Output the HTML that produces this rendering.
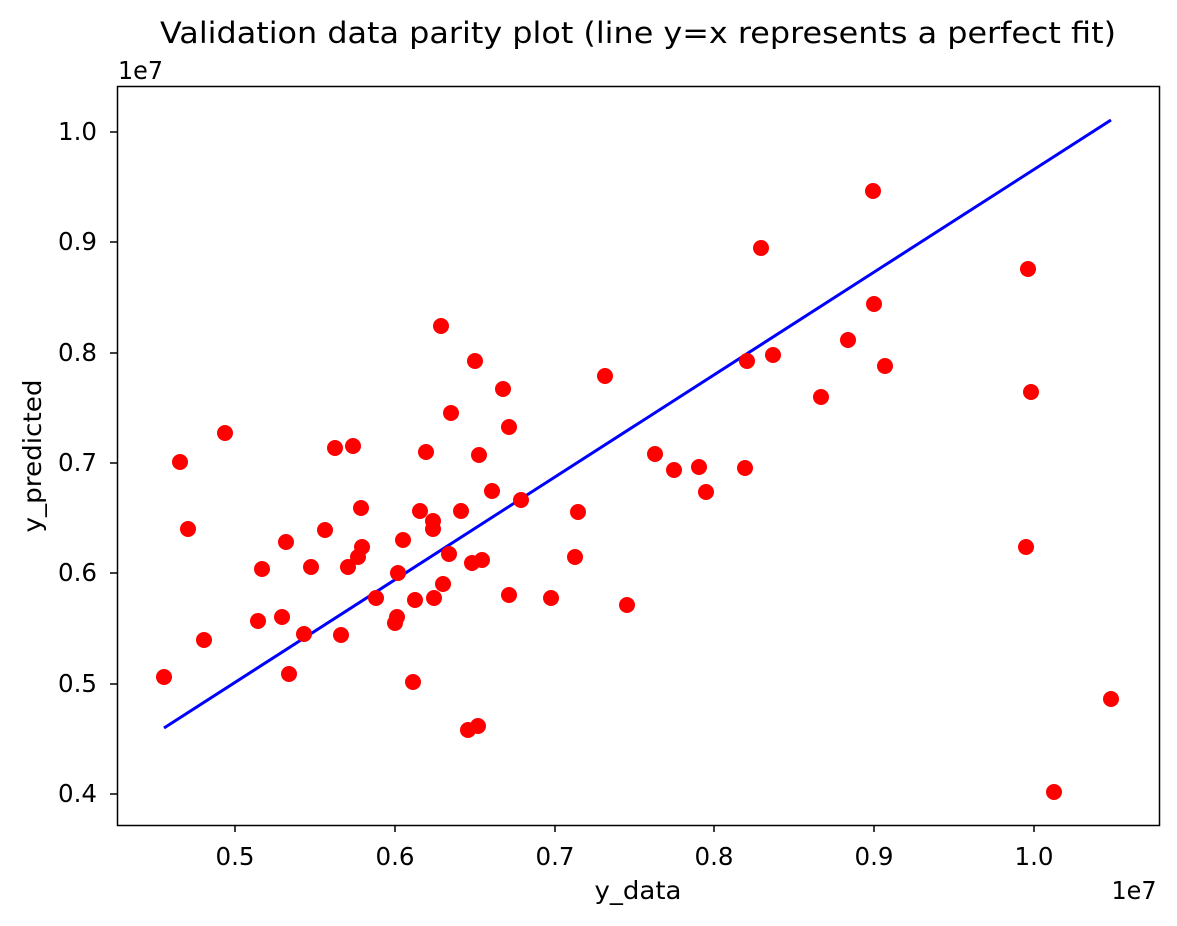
<!DOCTYPE html>
<html><head><meta charset="utf-8"><style>body{margin:0;background:#fff}svg{display:block}text{font-family:"DejaVu Sans","Liberation Sans",sans-serif;fill:#000}</style></head><body>
<svg width="1177" height="926" xmlns="http://www.w3.org/2000/svg">
<text x="160" y="43" font-size="29" textLength="956" lengthAdjust="spacingAndGlyphs">Validation data parity plot (line y=x represents a perfect fit)</text>
<line x1="164" y1="728" x2="1111" y2="120" stroke="#0000ff" stroke-width="3"/>
<g fill="#ff0000">
<circle cx="164" cy="677" r="8"/><circle cx="180" cy="462" r="8"/><circle cx="188" cy="529" r="8"/><circle cx="204" cy="640" r="8"/><circle cx="225" cy="433" r="8"/><circle cx="258" cy="621" r="8"/><circle cx="262" cy="569" r="8"/><circle cx="282" cy="617" r="8"/><circle cx="286" cy="542" r="8"/><circle cx="289" cy="674" r="8"/><circle cx="304" cy="634" r="8"/><circle cx="311" cy="567" r="8"/><circle cx="325" cy="530" r="8"/><circle cx="335" cy="448" r="8"/><circle cx="341" cy="635" r="8"/><circle cx="348" cy="567" r="8"/><circle cx="353" cy="446" r="8"/><circle cx="358" cy="557" r="8"/><circle cx="361" cy="508" r="8"/><circle cx="362" cy="547" r="8"/><circle cx="376" cy="598" r="8"/><circle cx="395" cy="623" r="8"/><circle cx="397" cy="617" r="8"/><circle cx="398" cy="573" r="8"/><circle cx="403" cy="540" r="8"/><circle cx="413" cy="682" r="8"/><circle cx="415" cy="600" r="8"/><circle cx="420" cy="511" r="8"/><circle cx="426" cy="452" r="8"/><circle cx="433" cy="521" r="8"/><circle cx="433" cy="529" r="8"/><circle cx="434" cy="598" r="8"/><circle cx="441" cy="326" r="8"/><circle cx="443" cy="584" r="8"/><circle cx="449" cy="554" r="8"/><circle cx="451" cy="413" r="8"/><circle cx="461" cy="511" r="8"/><circle cx="468" cy="730" r="8"/><circle cx="472" cy="563" r="8"/><circle cx="475" cy="361" r="8"/><circle cx="478" cy="726" r="8"/><circle cx="479" cy="455" r="8"/><circle cx="482" cy="560" r="8"/><circle cx="492" cy="491" r="8"/><circle cx="503" cy="389" r="8"/><circle cx="509" cy="427" r="8"/><circle cx="509" cy="595" r="8"/><circle cx="521" cy="500" r="8"/><circle cx="551" cy="598" r="8"/><circle cx="575" cy="557" r="8"/><circle cx="578" cy="512" r="8"/><circle cx="605" cy="376" r="8"/><circle cx="627" cy="605" r="8"/><circle cx="655" cy="454" r="8"/><circle cx="674" cy="470" r="8"/><circle cx="699" cy="467" r="8"/><circle cx="706" cy="492" r="8"/><circle cx="745" cy="468" r="8"/><circle cx="747" cy="361" r="8"/><circle cx="761" cy="248" r="8"/><circle cx="773" cy="355" r="8"/><circle cx="821" cy="397" r="8"/><circle cx="848" cy="340" r="8"/><circle cx="873" cy="191" r="8"/><circle cx="874" cy="304" r="8"/><circle cx="885" cy="366" r="8"/><circle cx="1026" cy="547" r="8"/><circle cx="1028" cy="269" r="8"/><circle cx="1031" cy="392" r="8"/><circle cx="1054" cy="792" r="8"/><circle cx="1111" cy="699" r="8"/>
</g>
<rect x="117.5" y="86.5" width="1042" height="739" fill="none" stroke="#000" stroke-width="1.5"/>
<g stroke="#000" stroke-width="1.5">
<line x1="235" y1="825" x2="235" y2="832"/><line x1="395" y1="825" x2="395" y2="832"/><line x1="555" y1="825" x2="555" y2="832"/><line x1="714" y1="825" x2="714" y2="832"/><line x1="874" y1="825" x2="874" y2="832"/><line x1="1034" y1="825" x2="1034" y2="832"/>
<line x1="110" y1="132" x2="117" y2="132"/><line x1="110" y1="242" x2="117" y2="242"/><line x1="110" y1="353" x2="117" y2="353"/><line x1="110" y1="463" x2="117" y2="463"/><line x1="110" y1="573" x2="117" y2="573"/><line x1="110" y1="684" x2="117" y2="684"/><line x1="110" y1="794" x2="117" y2="794"/>
</g>
<g font-size="25" text-anchor="middle">
<text x="235" y="865" textLength="39" lengthAdjust="spacingAndGlyphs">0.5</text><text x="395" y="865" textLength="39" lengthAdjust="spacingAndGlyphs">0.6</text><text x="555" y="865" textLength="39" lengthAdjust="spacingAndGlyphs">0.7</text><text x="714" y="865" textLength="39" lengthAdjust="spacingAndGlyphs">0.8</text><text x="874" y="865" textLength="39" lengthAdjust="spacingAndGlyphs">0.9</text><text x="1034" y="865" textLength="39" lengthAdjust="spacingAndGlyphs">1.0</text>
<text x="1134" y="899" textLength="45" lengthAdjust="spacingAndGlyphs">1e7</text><text x="638" y="899" textLength="87" lengthAdjust="spacingAndGlyphs">y_data</text>
</g>
<g font-size="25" text-anchor="end">
<text x="97" y="140" textLength="39" lengthAdjust="spacingAndGlyphs">1.0</text><text x="97" y="250" textLength="39" lengthAdjust="spacingAndGlyphs">0.9</text><text x="97" y="361" textLength="39" lengthAdjust="spacingAndGlyphs">0.8</text><text x="97" y="471" textLength="39" lengthAdjust="spacingAndGlyphs">0.7</text><text x="97" y="581" textLength="39" lengthAdjust="spacingAndGlyphs">0.6</text><text x="97" y="692" textLength="39" lengthAdjust="spacingAndGlyphs">0.5</text><text x="97" y="802" textLength="39" lengthAdjust="spacingAndGlyphs">0.4</text>
</g>
<text x="118" y="79" font-size="25" textLength="45" lengthAdjust="spacingAndGlyphs">1e7</text>
<text transform="translate(41,456) rotate(-90)" font-size="25" text-anchor="middle" textLength="153" lengthAdjust="spacingAndGlyphs">y_predicted</text>
</svg>
</body></html>
